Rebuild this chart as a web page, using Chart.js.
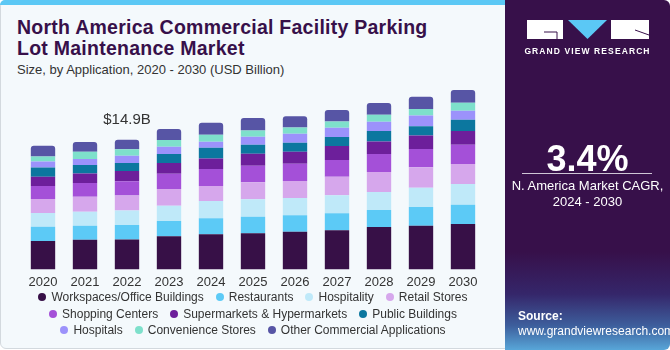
<!DOCTYPE html>
<html>
<head>
<meta charset="utf-8">
<script src="https://cdn.jsdelivr.net/npm/chart.js@4.4.1/dist/chart.umd.min.js"></script>
<style>
  body { margin: 0; width: 670px; height: 350px; background: #fff; font-family: "Liberation Sans", Arial, sans-serif; overflow: hidden; position: relative; }
  .card { position: absolute; left: 0; top: 0; width: 512px; height: 349px; background: #f4f9fc; border: 1px solid #d3d9de; border-radius: 6px; box-sizing: border-box; }
  .stripe { position: absolute; left: 0; top: 0; width: 512px; height: 5px; background: #5bc8f5; border-radius: 6px 0 0 0; }
  .title { position: absolute; left: 17px; top: 17px; font-size: 19.5px; font-weight: bold; color: #37104a; line-height: 21px; letter-spacing: 0.25px; }
  .subtitle { position: absolute; left: 17px; top: 62px; font-size: 13px; color: #333; }
  .chart-wrap { position: absolute; left: 0; top: 83px; width: 506px; height: 214px; }
  #legend { position: absolute; left: 23px; top: 289px; width: 460px; display: flex; flex-wrap: wrap; justify-content: center; font-size: 12px; color: #333; line-height: 16.5px; }
  #legend span.item { display: inline-flex; align-items: center; margin: 0 6px; white-space: nowrap; }
  #legend i { display: inline-block; width: 8px; height: 8px; border-radius: 50%; margin-right: 5px; }
  .panel { position: absolute; left: 505px; top: 0; width: 165px; height: 350px; border-radius: 0 6px 6px 0;
           background: linear-gradient(to bottom, #37104a 0%, #37104a 72%, #35266a 84%, #3d5e9c 93%, #58a6d8 100%); color: #fff; }
  .brand { position: absolute; left: 0; top: 46px; width: 165px; text-align: center; font-size: 8.5px; font-weight: bold; letter-spacing: 1.1px; }
  .cagr { position: absolute; left: 0; top: 138px; width: 165px; text-align: center; font-size: 36px; font-weight: bold; }
  .rule { position: absolute; left: 17px; top: 173px; width: 130px; height: 1px; background: #cfc6d6; }
  .cagr-text { position: absolute; left: 0; top: 178px; width: 165px; text-align: center; font-size: 13px; line-height: 16px; }
  .source { position: absolute; left: 13px; top: 309px; font-size: 12px; line-height: 15px; }
</style>
</head>
<body>
<div class="card"></div>
<div class="stripe"></div>
<div class="title">North America Commercial Facility Parking<br>Lot Maintenance Market</div>
<div class="subtitle">Size, by Application, 2020 - 2030 (USD Billion)</div>
<div class="chart-wrap"><canvas id="chart"></canvas></div>
<div id="legend"></div>

<div class="panel">
  <svg style="position:absolute;left:22px;top:20px" width="122" height="20" viewBox="0 0 122 20">
    <rect x="0" y="0" width="36" height="19" fill="#fff"/>
    <path d="M17 12 H30 V19" stroke="#37104a" stroke-width="1" fill="none"/>
    <polygon points="41,0 80,0 60.5,19" fill="#5bc8f5"/>
    <rect x="84" y="0" width="38" height="19" fill="#fff"/>
    <path d="M108 10 L122 15" stroke="#37104a" stroke-width="1"/>
  </svg>
  <div class="brand">GRAND VIEW RESEARCH</div>
  <div class="cagr">3.4%</div>
  <div class="rule"></div>
  <div class="cagr-text">N. America Market CAGR,<br>2024 - 2030</div>
  <div class="source"><b>Source:</b><br>www.grandviewresearch.com</div>
</div>

<script>
const years = ['2020', '2021', '2022', '2023', '2024', '2025', '2026', '2027', '2028', '2029', '2030'];

// USD Billion
const workspaces    = [3.26, 3.41, 3.43, 3.80, 4.03, 4.15, 4.33, 4.49, 4.87, 5.02, 5.22];
const restaurants   = [1.65, 1.61, 1.68, 1.76, 1.84, 1.91, 1.89, 1.96, 1.96, 2.15, 2.22];
const hospitality   = [1.58, 1.61, 1.65, 1.76, 1.99, 2.00, 1.99, 2.07, 2.07, 2.22, 2.38];
const retail        = [1.61, 1.73, 1.74, 1.92, 1.73, 1.96, 1.96, 2.14, 2.30, 2.35, 2.30];
const shopping      = [1.50, 1.58, 1.62, 1.76, 1.96, 1.88, 1.96, 1.92, 2.07, 2.11, 2.22];
const supermarkets  = [1.04, 1.07, 1.20, 1.23, 1.19, 1.38, 1.38, 1.61, 1.42, 1.53, 1.58];
const publicBldgs   = [1.07, 1.00, 0.90, 1.04, 1.23, 1.04, 1.04, 1.04, 1.23, 1.08, 1.27];
const hospitals     = [0.69, 0.69, 0.85, 0.84, 0.69, 0.92, 1.04, 1.04, 1.04, 1.22, 1.04];
const convenience   = [0.58, 0.81, 0.75, 0.77, 0.81, 0.73, 0.73, 0.73, 0.81, 0.77, 0.92];
const otherApps     = [1.23, 1.12, 1.08, 1.27, 1.38, 1.43, 1.27, 1.31, 1.35, 1.38, 1.46];

const annotations = [{ year: '2022', text: '$14.9B' }];

const series = [
    { label: 'Workspaces/Office Buildings', data: workspaces, color: '#371047' },
    { label: 'Restaurants', data: restaurants, color: '#5ccaf6' },
    { label: 'Hospitality', data: hospitality, color: '#bfe9f9' },
    { label: 'Retail Stores', data: retail, color: '#d6a7ec' },
    { label: 'Shopping Centers', data: shopping, color: '#a450d8' },
    { label: 'Supermarkets & Hypermarkets', data: supermarkets, color: '#6d1f9b' },
    { label: 'Public Buildings', data: publicBldgs, color: '#0c779f' },
    { label: 'Hospitals', data: hospitals, color: '#9c92fb' },
    { label: 'Convenience Stores', data: convenience, color: '#7ee0cb' },
    { label: 'Other Commercial Applications', data: otherApps, color: '#5755a5' }
];

const datasets = series.map((s, i) => ({
    label: s.label,
    data: s.data,
    backgroundColor: s.color,
    borderWidth: 0,
    borderRadius: i === series.length - 1 ? { topLeft: 3, topRight: 3 } : 0,
    borderSkipped: i === series.length - 1 ? 'start' : false,
    barPercentage: 0.58,
    categoryPercentage: 1
}));

// total label above a bar
const totalLabels = {
    id: 'totalLabels',
    afterDatasetsDraw(chart) {
        const { ctx, scales: { x, y } } = chart;
        ctx.save();
        ctx.font = '15px "Liberation Sans", Arial, sans-serif';
        ctx.fillStyle = '#333';
        ctx.textAlign = 'center';
        ctx.textBaseline = 'bottom';
        annotations.forEach(a => {
            const idx = years.indexOf(a.year);
            const total = series.reduce((sum, s) => sum + s.data[idx], 0);
            ctx.fillText(a.text, x.getPixelForValue(idx), y.getPixelForValue(total) - 12);
        });
        ctx.restore();
    }
};

const chart = new Chart(document.getElementById('chart'), {
    type: 'bar',
    data: { labels: years, datasets },
    options: {
        responsive: true,
        maintainAspectRatio: false,
        animation: false,
        layout: { padding: { left: 22, right: 22, top: 5, bottom: 2 } },
        plugins: {
            legend: { display: false },
            tooltip: { enabled: false }
        },
        scales: {
            x: {
                stacked: true,
                grid: { display: false, drawTicks: false },
                border: { display: false },
                ticks: { color: '#333', padding: 5, font: { family: '"Liberation Sans", Arial, sans-serif', size: 13 } }
            },
            y: {
                stacked: true,
                display: false,
                min: 0,
                max: 20.85
            }
        }
    },
    plugins: [totalLabels]
});

// HTML legend built from the chart datasets
document.getElementById('legend').innerHTML = chart.data.datasets.map(d => `
    <span class="item"><i style="background:${d.backgroundColor}"></i>${d.label}</span>
`).join('');
</script>
</body>
</html>
